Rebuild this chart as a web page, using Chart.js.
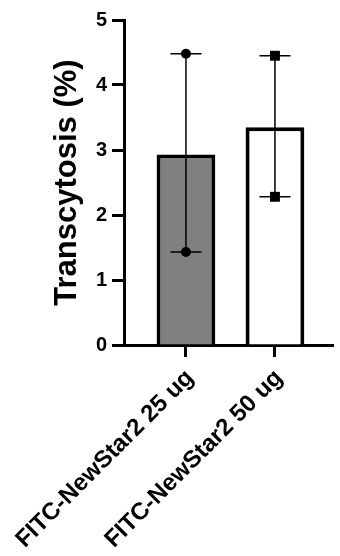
<!DOCTYPE html>
<html>
<head>
<meta charset="utf-8">
<script src="https://cdn.jsdelivr.net/npm/chart.js@4"></script>
<style>
  body { margin: 0; background: #fff; }
  #wrap { width: 340px; height: 556px; position: relative; }
</style>
</head>
<body>
<div id="wrap"><canvas id="myChart"></canvas></div>
<script>
const categories = ["FITC-NewStar2 25 ug", "FITC-NewStar2 50 ug"];
const means = [2.93, 3.35];
const points25 = [4.48, 1.43];
const points50 = [4.45, 2.28];
const barColors = ["#808080", "#ffffff"];
const yTicks = [0, 1, 2, 3, 4, 5];

const font = "Arial, 'Liberation Sans', sans-serif";
const groups = [points25, points50];

// error bar = range of the individual points, drawn right after the bars
const errorBars = {
  id: "errorBars",
  afterDatasetDraw: (chart, args) => {
    if (args.index !== 0) return;
    const ctx = chart.ctx;
    const xs = chart.scales.x;
    const ys = chart.scales.y;
    ctx.save();
    ctx.strokeStyle = "#000";
    ctx.lineWidth = 1.5;
    groups.forEach((pts, i) => {
      const px = xs.getPixelForValue(i);
      const top = ys.getPixelForValue(Math.max(...pts));
      const bot = ys.getPixelForValue(Math.min(...pts));
      ctx.beginPath();
      ctx.moveTo(px, top);
      ctx.lineTo(px, bot);
      ctx.moveTo(px - 15.5, top);
      ctx.lineTo(px + 15.5, top);
      ctx.moveTo(px - 15.5, bot);
      ctx.lineTo(px + 15.5, bot);
      ctx.stroke();
    });
    ctx.restore();
  },
};

const ctx = document.getElementById("myChart").getContext("2d");
const myChart = new Chart(ctx, {
  type: "bar",
  data: {
    datasets: [
      {
        type: "bar",
        order: 2, // bars underneath, points on top
        data: means.map((v, i) => ({ x: i, y: v })),
        backgroundColor: barColors,
        borderColor: "#000",
        borderWidth: 4,
        barPercentage: 0.66,
        categoryPercentage: 1,
      },
      {
        type: "bubble",
        order: 0,
        data: points25.map((v) => ({ x: 0, y: v, r: 5 })),
        pointStyle: "circle",
        backgroundColor: "#000",
        borderColor: "#000",
        borderWidth: 0,
      },
      {
        type: "bubble",
        order: 0,
        data: points50.map((v) => ({ x: 1, y: v, r: 7 })),
        pointStyle: "rect",
        backgroundColor: "#000",
        borderColor: "#000",
        borderWidth: 0,
      },
    ],
  },
  options: {
    responsive: true,
    maintainAspectRatio: false,
    animation: false,
    layout: { padding: { top: 20, left: 0, right: 0, bottom: 0 } },
    plugins: {
      legend: { display: false },
      tooltip: { enabled: false },
    },
    scales: {
      x: {
        type: "linear",
        offset: false,
        min: -0.696,
        max: 1.652,
        afterBuildTicks: (scale) => {
          scale.ticks = categories.map((c, i) => ({ value: i }));
        },
        afterFit: (scale) => {
          scale.height = 211;
          scale.paddingLeft = 0;
          scale.paddingRight = 0;
        },
        ticks: {
          autoSkip: false,
          minRotation: 45,
          maxRotation: 45,
          padding: 7,
          labelOffset: 4,
          color: "#000",
          font: { family: font, size: 24, weight: "bold" },
          callback: (v) => categories[v],
        },
        grid: {
          offset: false,
          drawOnChartArea: false,
          tickLength: 12,
          tickWidth: 3,
          tickColor: "#000",
        },
        border: { color: "#000", width: 3 },
      },
      y: {
        min: 0,
        max: 5,
        afterBuildTicks: (scale) => {
          scale.ticks = yTicks.map((v) => ({ value: v }));
        },
        afterFit: (scale) => {
          scale.width = 124;
        },
        ticks: {
          padding: 5,
          color: "#000",
          font: { family: font, size: 20, weight: "bold" },
        },
        grid: {
          drawOnChartArea: false,
          tickLength: 12,
          tickWidth: 3,
          tickColor: "#000",
        },
        border: { color: "#000", width: 3 },
        title: {
          display: true,
          text: "Transcytosis (%)",
          color: "#000",
          padding: { top: 52, bottom: 0 },
          font: { family: font, size: 31, weight: "bold", lineHeight: 1 },
        },
      },
    },
  },
  plugins: [errorBars],
});
</script>
</body>
</html>
